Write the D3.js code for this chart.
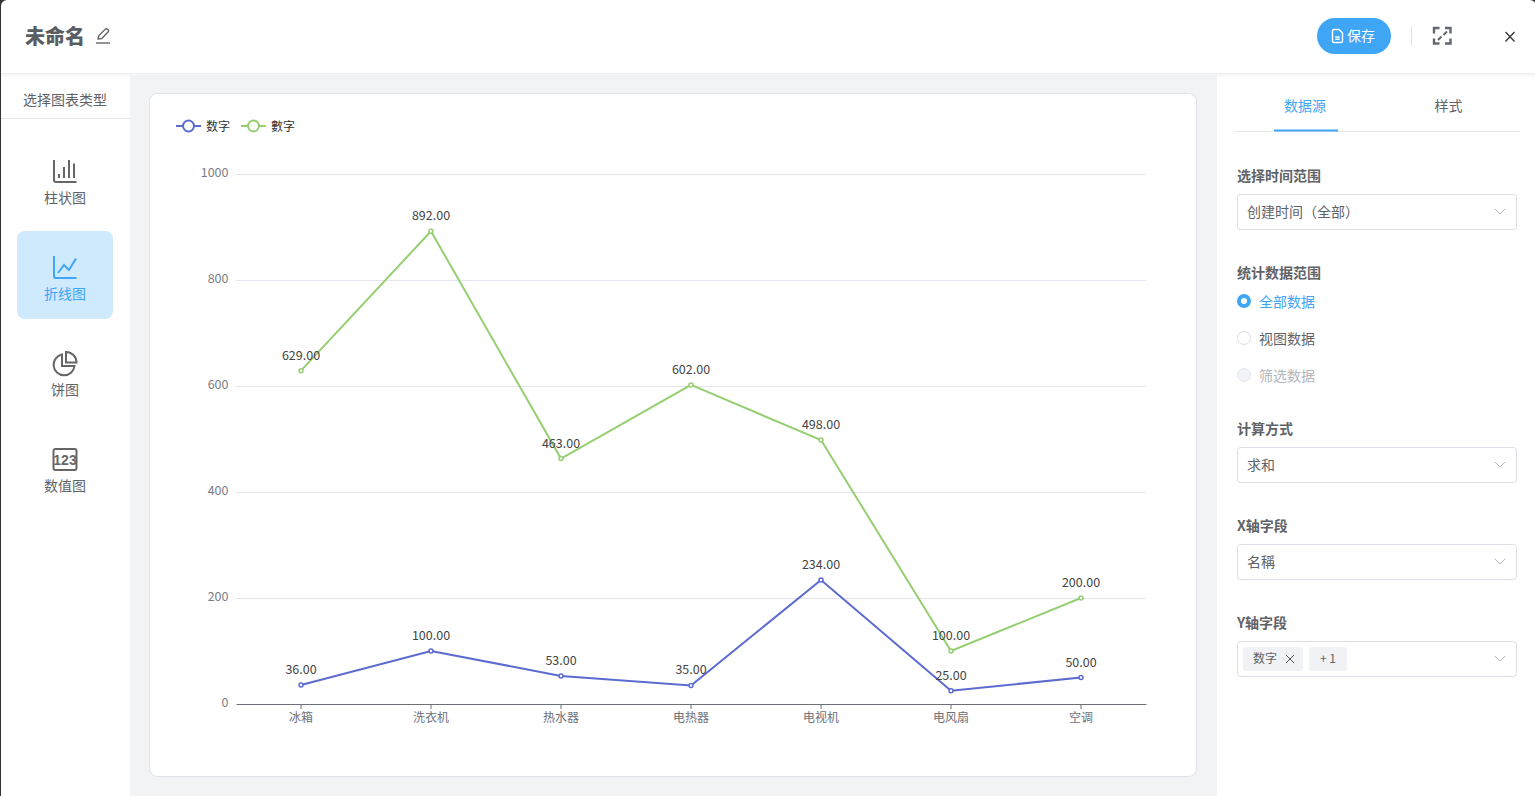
<!DOCTYPE html>
<html>
<head>
<meta charset="utf-8">
<script src="https://cdn.jsdelivr.net/npm/d3@7"></script>
<style>
html, body { margin: 0; padding: 0; background: #333; overflow: hidden; }
svg { display: block; }
text { font-family: "Noto Sans CJK SC", "Noto Sans", sans-serif; }
</style>
</head>
<body>
<div id="my_dataviz"></div>
<script>
const width = 1535, height = 796;
const blue = "#3fa5f5", grayText = "#5f6368", border = "#dcdee8";

const categories = ["冰箱", "洗衣机", "热水器", "电热器", "电视机", "电风扇", "空调"];
const series = [
    { name: "数字", color: "#5b6bcf", values: [36, 100, 53, 35, 234, 25, 50] },
    { name: "數字", color: "#95cf72", values: [629, 892, 463, 602, 498, 100, 200] }
];

const svg = d3.select("#my_dataviz").append("svg")
    .attr("width", width).attr("height", height);

function label(g, x, y, str, size, fill, opts) {
    opts = opts || {};
    return g.append("text").attr("x", x).attr("y", y).text(str)
        .attr("font-size", size).attr("fill", fill)
        .attr("font-weight", opts.weight || 400)
        .attr("text-anchor", opts.anchor || "start");
}

// page frame
svg.append("rect").attr("x", 1).attr("y", 0).attr("width", width).attr("height", height + 10).attr("rx", 6).attr("fill", "#fff");
svg.append("rect").attr("x", 130).attr("y", 74).attr("width", 1087).attr("height", 722).attr("fill", "#f2f3f5");
svg.append("rect").attr("x", 1).attr("y", 73).attr("width", width).attr("height", 1).attr("fill", "#eeeeef");
svg.append("rect").attr("x", 1).attr("y", 74).attr("width", width).attr("height", 2).attr("fill", "#f6f6f7");

// header
const header = svg.append("g");
label(header, 25, 44, "未命名", 20, "#5a5e63", { weight: 900 });
const pen = header.append("g").attr("transform", "translate(96,28)").attr("fill", "none").attr("stroke", "#666").attr("stroke-width", 1.4);
pen.append("path").attr("d", "M2 11 L3 7.5 L9.5 1 Q10.5 0.3 11.5 1.2 L12.3 2 Q13 3 12.2 3.8 L5.8 10.5 Z");
pen.append("path").attr("d", "M0 15 H14");

header.append("rect").attr("x", 1317).attr("y", 18).attr("width", 74).attr("height", 36).attr("rx", 18).attr("fill", blue);
const doc = header.append("g").attr("transform", "translate(1332.5,29.5)").attr("fill", "none").attr("stroke", "#fff").attr("stroke-width", 1.4);
doc.append("path").attr("d", "M0 1.5 Q0 0 1.5 0 H6.5 L10 3.5 V11.5 Q10 13 8.5 13 H1.5 Q0 13 0 11.5 Z");
doc.append("path").attr("d", "M2.8 7.5 H7.2 M2.8 9.8 H7.2");
label(header, 1347, 41, "保存", 14, "#fff");
header.append("rect").attr("x", 1411).attr("y", 26).attr("width", 1).attr("height", 20).attr("fill", "#e2e3e6");
const full = header.append("g").attr("transform", "translate(1434,28)").attr("fill", "none").attr("stroke", "#62666f").attr("stroke-width", 2.4);
full.append("path").attr("d", "M0 5.5 V0 H5.5 M11 0 H16.5 V5.5 M16.5 10.5 V15.5 H11 M5.5 15.5 H0 V10.5");
full.append("path").attr("d", "M4 12 L7.5 8.5 M13 3.5 L9.5 7").attr("stroke-width", 2);
header.append("path").attr("d", "M1505.5 32 L1514.5 41.5 M1514.5 32 L1505.5 41.5").attr("stroke", "#333").attr("stroke-width", 1.3);

// left menu
const menu = svg.append("g");
label(menu, 65, 105, "选择图表类型", 14, grayText, { anchor: "middle" });
menu.append("rect").attr("x", 1).attr("y", 118).attr("width", 129).attr("height", 1).attr("fill", "#e6e7ec");
menu.append("rect").attr("x", 17).attr("y", 231).attr("width", 96).attr("height", 88).attr("rx", 8).attr("fill", "#cfe9fd");
label(menu, 65, 203, "柱状图", 14, grayText, { anchor: "middle" });
label(menu, 65, 299, "折线图", 14, blue, { anchor: "middle" });
label(menu, 65, 395, "饼图", 14, grayText, { anchor: "middle" });
label(menu, 65, 491, "数值图", 14, grayText, { anchor: "middle" });

const bar = menu.append("g").attr("fill", "none").attr("stroke", "#666").attr("stroke-width", 2);
bar.append("path").attr("d", "M54 160 V180 Q54 182 56 182 H76.5");
bar.append("path").attr("d", "M59 174 V178 M64 167 V178 M69 160 V178 M74 163.5 V178");
const lineIcon = menu.append("g").attr("fill", "none").attr("stroke", blue).attr("stroke-width", 2);
lineIcon.append("path").attr("d", "M54 256 V276 Q54 278 56 278 H76.5");
lineIcon.append("path").attr("d", "M58 273 L64 265 L69 270 L76 258.5");
const pie = menu.append("g").attr("fill", "none").attr("stroke", "#666").attr("stroke-width", 2);
pie.append("path").attr("d", "M62 354.5 A10.5 10.5 0 1 0 74.5 366 H62 Z");
pie.append("path").attr("d", "M66 352 A10.5 10.5 0 0 1 76.5 362.5 H66 Z");
menu.append("rect").attr("x", 53.5).attr("y", 449).attr("width", 23).attr("height", 21).attr("rx", 2)
    .attr("fill", "none").attr("stroke", "#666").attr("stroke-width", 2);
label(menu, 65, 465, "123", 14, "#666", { anchor: "middle" })
    .style("font-family", '"Liberation Sans Narrow", "Liberation Sans"').attr("font-weight", 700);

// chart card
svg.append("rect").attr("x", 149.5).attr("y", 93.5).attr("width", 1047).attr("height", 683).attr("rx", 8)
    .attr("fill", "#fff").attr("stroke", "#e0e2ea");

const x = d3.scaleBand().domain(categories).range([236, 1146]);
const y = d3.scaleLinear().domain([0, 1000]).range([704, 174]);
const chart = svg.append("g");

// grid lines
chart.append("g").selectAll("line").data(y.ticks(5).slice(1)).enter().append("line")
    .attr("x1", 236).attr("x2", 1146)
    .attr("y1", d => y(d) + 0.5).attr("y2", d => y(d) + 0.5)
    .attr("stroke", "#e3e6f2");

// axes
const yAxis = chart.append("g").attr("transform", "translate(236,0)")
    .call(d3.axisLeft(y).ticks(5).tickFormat(d3.format("d")).tickSize(0).tickPadding(7.5));
yAxis.select(".domain").remove();
yAxis.selectAll("text").attr("font-size", 12.5).attr("fill", "#7a7d85").attr("dy", "0.2em")
    .style("font-family", '"Noto Sans CJK SC"');

const xAxis = chart.append("g").attr("transform", "translate(0,704)")
    .call(d3.axisBottom(x).tickSize(5).tickPadding(4.5).tickSizeOuter(0));
xAxis.select(".domain").attr("stroke", "#6e7079");
xAxis.selectAll(".tick line").attr("stroke", "#6e7079");
xAxis.selectAll("text").attr("font-size", 12).attr("fill", "#6e7079")
    .style("font-family", '"Noto Sans CJK SC"');

// lines, points, value labels
const line = d3.line().x((d, i) => x(categories[i]) + x.bandwidth() / 2).y(d => y(d));
series.forEach(s => {
    const g = chart.append("g");
    g.append("path").attr("d", line(s.values)).attr("fill", "none")
        .attr("stroke", s.color).attr("stroke-width", 2);
    g.selectAll("circle").data(s.values).enter().append("circle")
        .attr("cx", (d, i) => x(categories[i]) + x.bandwidth() / 2)
        .attr("cy", d => y(d)).attr("r", 2)
        .attr("fill", "#fff").attr("stroke", s.color).attr("stroke-width", 1.5);
    g.selectAll("text").data(s.values).enter().append("text")
        .attr("x", (d, i) => x(categories[i]) + x.bandwidth() / 2)
        .attr("y", d => y(d) - 11)
        .attr("text-anchor", "middle").attr("font-size", 12.5).attr("fill", "#444")
        .text(d => d.toFixed(2));
});

// legend
const legend = chart.append("g").selectAll("g").data(series).enter().append("g")
    .attr("transform", (d, i) => `translate(${176 + i * 65},126)`);
legend.append("line").attr("x1", 0).attr("x2", 25).attr("stroke", d => d.color).attr("stroke-width", 2);
legend.append("circle").attr("cx", 12.5).attr("r", 5.5).attr("fill", "#fff")
    .attr("stroke", d => d.color).attr("stroke-width", 2);
legend.append("text").attr("x", 30).attr("y", 4.5).attr("font-size", 12).attr("fill", "#333").text(d => d.name);

// right panel
const panel = svg.append("g");
label(panel, 1305, 111, "数据源", 14, blue, { anchor: "middle" });
label(panel, 1448.5, 111, "样式", 14, grayText, { anchor: "middle" });
panel.append("rect").attr("x", 1234).attr("y", 131).attr("width", 286).attr("height", 1).attr("fill", "#e6e7ec");
panel.append("rect").attr("x", 1274).attr("y", 129.5).attr("width", 64).attr("height", 2).attr("fill", blue);

function field(title, titleY, boxY) {
    label(panel, 1237, titleY, title, 14, grayText, { weight: 700 });
    if (boxY == null) return;
    panel.append("rect").attr("x", 1237.5).attr("y", boxY + 0.5).attr("width", 279).attr("height", 35).attr("rx", 3)
        .attr("fill", "#fff").attr("stroke", border);
    panel.append("path").attr("d", `M1495 ${boxY + 15} L1500 ${boxY + 20} L1505 ${boxY + 15}`)
        .attr("fill", "none").attr("stroke", "#b4b6bd").attr("stroke-width", 1);
}
field("选择时间范围", 181, 194);
label(panel, 1247, 217, "创建时间（全部）", 14, grayText);
field("统计数据范围", 278);
field("计算方式", 434, 447);
label(panel, 1247, 470, "求和", 14, grayText);
field("X轴字段", 531, 544);
label(panel, 1247, 567, "名稱", 14, grayText);
field("Y轴字段", 628, 641);

// radio options
panel.append("circle").attr("cx", 1244).attr("cy", 301).attr("r", 5).attr("fill", "#fff").attr("stroke", blue).attr("stroke-width", 4);
label(panel, 1259, 306.5, "全部数据", 14, blue);
panel.append("circle").attr("cx", 1244).attr("cy", 338).attr("r", 6.5).attr("fill", "#fff").attr("stroke", border);
label(panel, 1259, 344, "视图数据", 14, grayText);
panel.append("circle").attr("cx", 1244).attr("cy", 375).attr("r", 6.5).attr("fill", "#f2f3f8").attr("stroke", "#e4e6ee");
label(panel, 1259, 381, "筛选数据", 14, "#b4b6bb");

// y field tags
panel.append("rect").attr("x", 1243).attr("y", 647).attr("width", 60).attr("height", 24).attr("rx", 3).attr("fill", "#f0f2f5");
label(panel, 1253, 663, "数字", 12, grayText);
panel.append("path").attr("d", "M1286 655 L1294 663 M1294 655 L1286 663").attr("stroke", "#555").attr("stroke-width", 1);
panel.append("rect").attr("x", 1309).attr("y", 647).attr("width", 38).attr("height", 24).attr("rx", 3).attr("fill", "#f0f2f5");
label(panel, 1328, 663, "+ 1", 12, grayText, { anchor: "middle" });
</script>
</body>
</html>
